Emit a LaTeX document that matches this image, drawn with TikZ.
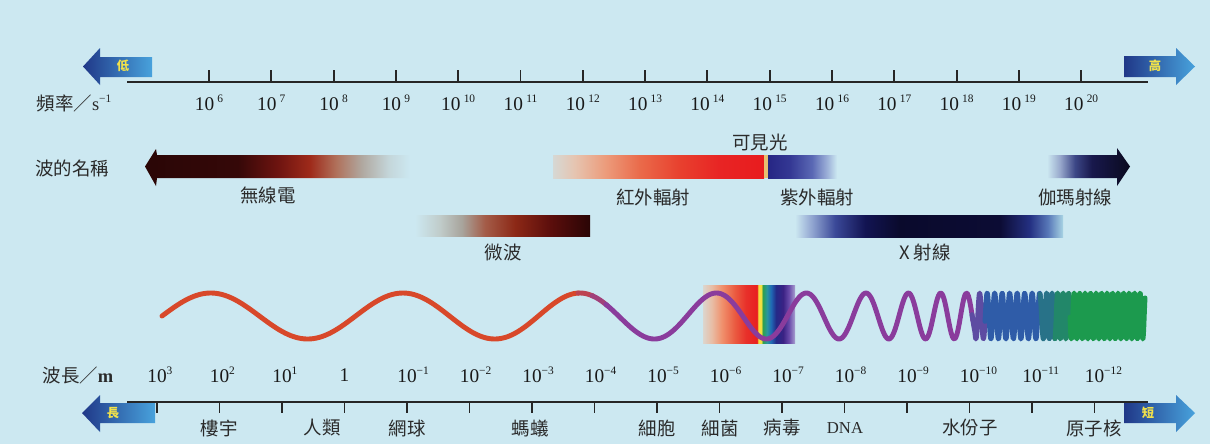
\documentclass[tikz,border=0pt]{standalone}
\usepackage{fontspec}
\setmainfont{Liberation Serif}
\newfontfamily\cjk{Noto Sans CJK TC}
\definecolor{specBg}{HTML}{CCE8F1}
\definecolor{specInk}{HTML}{2A2A2A}
\definecolor{lvlDark}{HTML}{203888}
\definecolor{lvlLight}{HTML}{48A2DC}
\definecolor{lvlText}{HTML}{F2E24A}
\definecolor{waveRed}{HTML}{D8482A}
\definecolor{wavePurple}{HTML}{8A3C9C}
\definecolor{waveBlue}{HTML}{2F5CA8}
\definecolor{waveGreen}{HTML}{1C9A4E}
\definecolor{visEdge}{HTML}{E8C070}
% bar shadings, 25bp..75bp = left..right end of the bar
\pgfdeclarehorizontalshading{radioShade}{100bp}{rgb(0bp)=(.165,.024,.024); rgb(25bp)=(.165,.024,.024); rgb(42.5bp)=(.208,.031,.031); rgb(50.1bp)=(.431,.078,.063); rgb(56.1bp)=(.620,.165,.102); rgb(61bp)=(.690,.439,.353); rgb(65.9bp)=(.690,.659,.627); rgb(71bp)=(.769,.839,.855); rgb(75bp)=(.800,.910,.945); rgb(100bp)=(.800,.910,.945)}
\pgfdeclarehorizontalshading{microShade}{100bp}{rgb(0bp)=(.800,.910,.945); rgb(25bp)=(.800,.910,.945); rgb(32.1bp)=(.753,.800,.792); rgb(38.4bp)=(.659,.643,.612); rgb(45bp)=(.643,.361,.282); rgb(53.6bp)=(.549,.157,.086); rgb(63.6bp)=(.361,.055,.047); rgb(75bp)=(.165,.020,.020); rgb(100bp)=(.165,.020,.020)}
\pgfdeclarehorizontalshading{irShade}{100bp}{rgb(0bp)=(.839,.847,.831); rgb(25bp)=(.839,.847,.831); rgb(30.2bp)=(.902,.769,.690); rgb(37.3bp)=(.925,.612,.486); rgb(45.6bp)=(.918,.416,.290); rgb(55.1bp)=(.910,.251,.180); rgb(64.6bp)=(.910,.141,.141); rgb(75bp)=(.910,.110,.118); rgb(100bp)=(.910,.110,.118)}
\pgfdeclarehorizontalshading{uvShade}{100bp}{rgb(0bp)=(.149,.149,.518); rgb(25bp)=(.149,.149,.518); rgb(40.9bp)=(.204,.220,.580); rgb(56.9bp)=(.353,.408,.706); rgb(67.8bp)=(.612,.690,.847); rgb(75bp)=(.800,.910,.945); rgb(100bp)=(.800,.910,.945)}
\pgfdeclarehorizontalshading{gammaShade}{100bp}{rgb(0bp)=(.800,.910,.945); rgb(25bp)=(.800,.910,.945); rgb(32.8bp)=(.596,.659,.800); rgb(41.9bp)=(.235,.275,.525); rgb(52.1bp)=(.094,.094,.298); rgb(75bp)=(.039,.039,.118); rgb(100bp)=(.039,.039,.118)}
\pgfdeclarehorizontalshading{xrayShade}{100bp}{rgb(0bp)=(.800,.910,.945); rgb(25bp)=(.800,.910,.945); rgb(28.2bp)=(.565,.643,.816); rgb(32.5bp)=(.227,.282,.596); rgb(38.1bp)=(.071,.078,.322); rgb(44.6bp)=(.039,.039,.173); rgb(63.2bp)=(.047,.047,.204); rgb(68.8bp)=(.141,.188,.510); rgb(72.2bp)=(.345,.471,.722); rgb(75bp)=(.659,.831,.894); rgb(100bp)=(.659,.831,.894)}
\pgfdeclarehorizontalshading{visShade}{100bp}{rgb(0bp)=(.863,.839,.808); rgb(25bp)=(.863,.839,.808); rgb(29.9bp)=(.910,.737,.643); rgb(35.3bp)=(.941,.565,.424); rgb(42.4bp)=(.918,.353,.251); rgb(48.4bp)=(.910,.188,.165); rgb(54.3bp)=(.910,.125,.125); rgb(55.1bp)=(.957,.878,.251); rgb(56.5bp)=(.957,.878,.251); rgb(57.6bp)=(.180,.627,.314); rgb(59.8bp)=(.157,.588,.627); rgb(62bp)=(.125,.408,.706); rgb(64.7bp)=(.141,.165,.533); rgb(68.5bp)=(.227,.133,.518); rgb(71.7bp)=(.416,.290,.667); rgb(75bp)=(.659,.627,.816); rgb(100bp)=(.659,.627,.816)}
\newcommand{\expo}[1]{\raisebox{0.85ex}{\fontsize{6.5}{6.5}\selectfont #1}}
\tikzset{
  every picture/.style={font=\cjk\fontsize{10.5}{12}\selectfont, text=specInk},
  spec axis/.style={draw=black!85, line width=1.4pt},
  spec tick/.style={draw=black!85, line width=1.1pt},
  spec num/.style={font=\rmfamily\fontsize{11}{12}\selectfont, text=black!90},
  lvl arrow/.style={left color=lvlDark, right color=lvlLight},
  lvl text/.style={font=\cjk\bfseries\fontsize{7}{8}\selectfont, text=lvlText},
  spec wave/.style={line width=2.8pt, line cap=round, line join=round}
}
\begin{document}
\begin{tikzpicture}[x=0.02cm,y=-0.02cm,
  declare function={waveN(\x)=(\x<975) ? (0.0051*(\x-162)+exp((\x-162)/110-5.89)-0.00277) : ((\x<1045) ? (8.6294+(\x-975)/7.5) : (17.9627+(\x-1045)/5.5));}]
  \useasboundingbox (0,0) rectangle (1210,444);
  \fill[specBg] (0,0) rectangle (1210,444);

  % frequency axis
  \coordinate (fqStart) at (127,82);
  \coordinate (fqEnd) at (1148,82);
  \draw[spec axis] (fqStart) -- (fqEnd);
  \foreach \e [count=\i from 0] in {6,...,20} {
    \coordinate (fqTick\e) at ({209+62.3*\i},82);
    \draw[spec tick] (fqTick\e) -- ++(0,-12);
    \node[spec num] (fqNum\e) at ({209+62.3*\i},103) {10\,\expo{\e}};
  }
  \node (fqTitle) at (74,103) {頻率／{\rmfamily s\expo{−1}}};
  \shade[lvl arrow] (83,66.5) -- (100,48) -- (100,57) -- (152,57) -- (152,77) -- (100,77) -- (100,85) -- cycle;
  \node[lvl text] (fqLow) at (123,66) {低};
  \shade[lvl arrow] (1124,56) -- (1176,56) -- (1176,48) -- (1195,66.5) -- (1176,85) -- (1176,77) -- (1124,77) -- cycle;
  \node[lvl text] (fqHigh) at (1155,66) {高};

  % wave names
  \node (nameTitle) at (72,168) {波的名稱};
  \shade[shading=radioShade] (145,166.5) -- (156,149) -- (157,155) -- (410,155) -- (410,178) -- (157,178) -- (156,186) -- cycle;
  \node (radioLbl) at (268,195) {無線電};
  \shade[shading=microShade] (415,215) rectangle (590,236);
  \node (microLbl) at (503,252) {微波};
  \shade[shading=irShade] (553,155) rectangle (764,178);
  \fill[visEdge] (764,155) rectangle (768,178);
  \shade[shading=uvShade] (768,155) rectangle (837,178);
  \node (irLbl) at (653,197) {紅外輻射};
  \node (visLbl) at (760,142) {可見光};
  \node (uvLbl) at (817,197) {紫外輻射};
  \shade[shading=xrayShade] (795,215) rectangle (1063,237);
  \node (xrayLbl) at (925,252) {X 射線};
  \shade[shading=gammaShade] (1047,155) -- (1117,155) -- (1117,148) -- (1130,166.5) -- (1117,186) -- (1117,178) -- (1047,178) -- cycle;
  \node (gammaLbl) at (1075,197) {伽瑪射線};

  % wave
  \shade[shading=visShade] (703,285) rectangle (795,343);
  \foreach \a/\b/\col/\n in {162/579/waveRed/160, 578/593/{waveRed!65!wavePurple}/12, 592/607/{waveRed!30!wavePurple}/12,
      606/973/wavePurple/320, 972/986/{wavePurple!50!waveBlue}/30, 985/1041/waveBlue/140,
      1040/1056/{waveBlue!65!waveGreen}/50, 1055/1071/{waveBlue!30!waveGreen}/50, 1070/1145/waveGreen/240}
    \draw[spec wave, draw=\col] plot[domain=\a:\b, samples=\n] (\x,{316-23*sin(360*waveN(\x))});

  % wavelength axis
  \coordinate (wlStart) at (127,402);
  \coordinate (wlEnd) at (1148,402);
  \draw[spec axis] (wlStart) -- (wlEnd);
  \foreach \t [count=\i from 0] in {{10\rlap{\expo{3}}}, {10\rlap{\expo{2}}}, {10\rlap{\expo{1}}}, 1,
      {10\rlap{\expo{−1}}}, {10\rlap{\expo{−2}}}, {10\rlap{\expo{−3}}}, {10\rlap{\expo{−4}}},
      {10\rlap{\expo{−5}}}, {10\rlap{\expo{−6}}}, {10\rlap{\expo{−7}}}, {10\rlap{\expo{−8}}},
      {10\rlap{\expo{−9}}}, {10\rlap{\expo{−10}}}, {10\rlap{\expo{−11}}}, {10\rlap{\expo{−12}}}} {
    \coordinate (wlTick\i) at ({157+62.5*\i},402);
    \draw[spec tick] (wlTick\i) -- ++(0,11);
    \node[spec num] (wlNum\i) at ({157+62.5*\i},375) {\t};
  }
  \node (wlTitle) at (78,375) {波長／{\rmfamily\bfseries m}};
  \shade[lvl arrow] (82,413) -- (100,395) -- (100,403) -- (155,403) -- (155,423) -- (100,423) -- (100,432) -- cycle;
  \node[lvl text] (wlLong) at (113,413) {長};
  \shade[lvl arrow] (1124,403) -- (1176,403) -- (1176,395) -- (1195,413) -- (1176,432) -- (1176,423) -- (1124,423) -- cycle;
  \node[lvl text] (wlShort) at (1148,413) {短};

  % objects
  \node (objBuild) at (219,428) {樓宇};
  \node (objHuman) at (322,428) {人類};
  \node (objBall) at (407,428) {網球};
  \node (objAnt) at (530,428) {螞蟻};
  \node (objCell) at (657,428) {細胞};
  \node (objGerm) at (720,428) {細菌};
  \node (objVirus) at (782,428) {病毒};
  \node[font=\rmfamily\fontsize{9.5}{10}\selectfont] (objDna) at (845,428) {DNA};
  \node (objWater) at (970,428) {水份子};
  \node (objNuc) at (1094,428) {原子核};
\end{tikzpicture}
\end{document}
